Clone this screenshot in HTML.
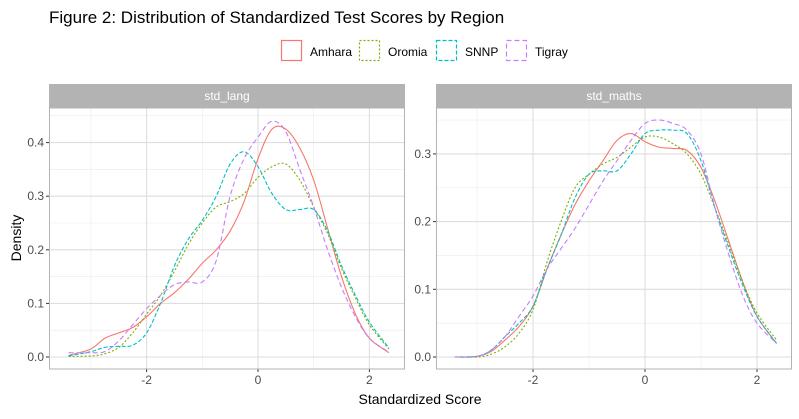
<!DOCTYPE html>
<html><head><meta charset="utf-8"><style>
body{margin:0;background:#fff;font-family:"Liberation Sans",Arial,sans-serif}
svg text{font-family:"Liberation Sans",Arial,sans-serif}
</style></head><body>
<svg id="chart" width="799" height="414" xmlns="http://www.w3.org/2000/svg">
<rect width="799" height="414" fill="#fff"/>
<text x="49" y="23" font-size="17" fill="#000">Figure 2: Distribution of Standardized Test Scores by Region</text>
<g id="legend"></g>
<g id="panels"></g>
<text x="420" y="404" font-size="14" text-anchor="middle" fill="#000">Standardized Score</text>
<text transform="translate(21,238) rotate(-90)" font-size="14" text-anchor="middle" fill="#000">Density</text>
</svg>
<script>
const regions=["Amhara","Oromia","SNNP","Tigray"];
const colors=["#F8766D","#7CAE00","#00BFC4","#C77CFF"];
const dashes=["","2,2","4,2","5,3"];
const xs=[-3.4,-3,-2.75,-2.5,-2.25,-2,-1.75,-1.5,-1.25,-1,-0.75,-0.5,-0.25,0,0.25,0.5,0.75,1,1.25,1.5,1.75,2,2.35];
const langAmhara=[0.003,0.015,0.035,0.045,0.055,0.075,0.1,0.12,0.145,0.175,0.2,0.235,0.29,0.37,0.425,0.425,0.39,0.33,0.24,0.15,0.08,0.035,0.008];
const langOromia=[0.001,0.002,0.006,0.018,0.045,0.08,0.115,0.16,0.21,0.25,0.28,0.29,0.305,0.335,0.355,0.36,0.33,0.28,0.23,0.165,0.11,0.06,0.015];
const langSNNP=[0.002,0.01,0.018,0.02,0.022,0.045,0.1,0.17,0.22,0.255,0.3,0.36,0.383,0.355,0.305,0.275,0.275,0.275,0.235,0.17,0.115,0.065,0.017];
const langTigray=[0.008,0.008,0.01,0.03,0.06,0.09,0.115,0.135,0.14,0.14,0.18,0.3,0.37,0.41,0.44,0.42,0.35,0.28,0.2,0.13,0.075,0.035,0.009];
const mathAmhara=[0,0.001,0.008,0.025,0.045,0.075,0.13,0.18,0.225,0.26,0.29,0.32,0.33,0.318,0.31,0.308,0.305,0.28,0.23,0.17,0.11,0.06,0.02];
const mathOromia=[0,0,0.004,0.015,0.035,0.07,0.14,0.2,0.25,0.27,0.285,0.295,0.31,0.325,0.325,0.315,0.3,0.27,0.22,0.165,0.11,0.065,0.025];
const mathSNNP=[0,0.001,0.01,0.03,0.05,0.075,0.13,0.18,0.235,0.27,0.275,0.275,0.3,0.33,0.335,0.335,0.33,0.29,0.22,0.16,0.105,0.06,0.02];
const mathTigray=[0,0.001,0.01,0.03,0.06,0.09,0.13,0.16,0.19,0.225,0.26,0.29,0.32,0.345,0.35,0.345,0.335,0.3,0.22,0.15,0.09,0.05,0.02];
const xTicks=[-2,0,2];
const langYTicks=[0,0.1,0.2,0.3,0.4];
const mathYTicks=[0,0.1,0.2,0.3];
const NS="http://www.w3.org/2000/svg";
const svg=document.getElementById('chart');
function mk(tag,attrs,parent){const e=document.createElementNS(NS,tag);for(const k in attrs)e.setAttribute(k,attrs[k]);(parent||svg).appendChild(e);return e;}
// legend
const lg=document.getElementById('legend');
const lbx=[281,359,436,506];
regions.forEach((r,i)=>{
  const b=mk('rect',{x:lbx[i]+0.5,y:40.5,width:20,height:20,fill:'none',stroke:colors[i],'stroke-width':1.2,'stroke-dasharray':dashes[i]||'none'},lg);
  
  
  const t=mk('text',{x:lbx[i]+29,y:56,'font-size':12,fill:'#000'},lg);t.textContent=r;
  
  
});
function path(pts){let d='M'+pts[0][0]+','+pts[0][1];
  for(let i=0;i<pts.length-1;i++){const p0=pts[i-1]||pts[i],p1=pts[i],p2=pts[i+1],p3=pts[i+2]||p2;
    d+=' C'+(p1[0]+(p2[0]-p0[0])/6)+','+(p1[1]+(p2[1]-p0[1])/6)+' '+(p2[0]-(p3[0]-p1[0])/6)+','+(p2[1]-(p3[1]-p1[1])/6)+' '+p2[0]+','+p2[1];}
  return d;}
function panel(name,x0,x1,xAt0,xPerUnit,yAt0,yPerUnit,yticks,series,ymax){
  const g=mk('g',{},document.getElementById('panels'));
  
  
  const top=108,bot=369;
  const X=v=>xAt0+v*xPerUnit, Y=v=>yAt0-v*yPerUnit;
  const strip=mk('rect',{x:x0,y:84,width:x1-x0,height:24,fill:'#B3B3B3'},g);
  
  
  const st=mk('text',{x:(x0+x1)/2,y:100,'font-size':12,fill:'#fff','text-anchor':'middle'},g);st.textContent=name;
  
  
  // minor grid
  for(let v=-3;v<=3;v+=2){const px=X(v);if(px>x0&&px<x1)mk('line',{x1:px,x2:px,y1:top,y2:bot,stroke:'#EBEBEB','stroke-width':0.6},g);}
  for(let v=0.05;v<ymax;v+=0.1){const py=Y(v);if(py>top)mk('line',{x1:x0,x2:x1,y1:py,y2:py,stroke:'#EBEBEB','stroke-width':0.6},g);}
  xTicks.forEach(v=>{const px=X(v);mk('line',{x1:px,x2:px,y1:top,y2:bot,stroke:'#DEDEDE','stroke-width':1.1},g);
    mk('line',{x1:px,x2:px,y1:bot,y2:bot+3,stroke:'#333','stroke-width':1},g);
    const t=mk('text',{x:px,y:bot+15,'font-size':12,fill:'#4D4D4D','text-anchor':'middle'},g);t.textContent=v;
    
    });
  yticks.forEach(v=>{const py=Y(v);mk('line',{x1:x0,x2:x1,y1:py,y2:py,stroke:'#DEDEDE','stroke-width':1.1},g);
    mk('line',{x1:x0-3,x2:x0,y1:py,y2:py,stroke:'#333','stroke-width':1},g);
    const t=mk('text',{x:x0-5,y:py+4,'font-size':12,fill:'#4D4D4D','text-anchor':'end'},g);t.textContent=v.toFixed(1);
    
    });
  series.forEach((s,i)=>{const p=mk('path',{d:path(xs.map((x,j)=>[X(x),Y(s[j])])),fill:'none',stroke:colors[i],'stroke-width':1.1,'stroke-dasharray':dashes[i]||'none'},g);
    
    });
  mk('rect',{x:x0+0.5,y:top,width:x1-x0-1,height:bot-top,fill:'none',stroke:'#B3B3B3','stroke-width':1},g);
}
panel('std_lang',49,405,258,55.7,357,536,langYTicks,[langAmhara,langOromia,langSNNP,langTigray],0.48);
panel('std_maths',436,792,645,56,357,677,mathYTicks,[mathAmhara,mathOromia,mathSNNP,mathTigray],0.37);
</script>
</body></html>
